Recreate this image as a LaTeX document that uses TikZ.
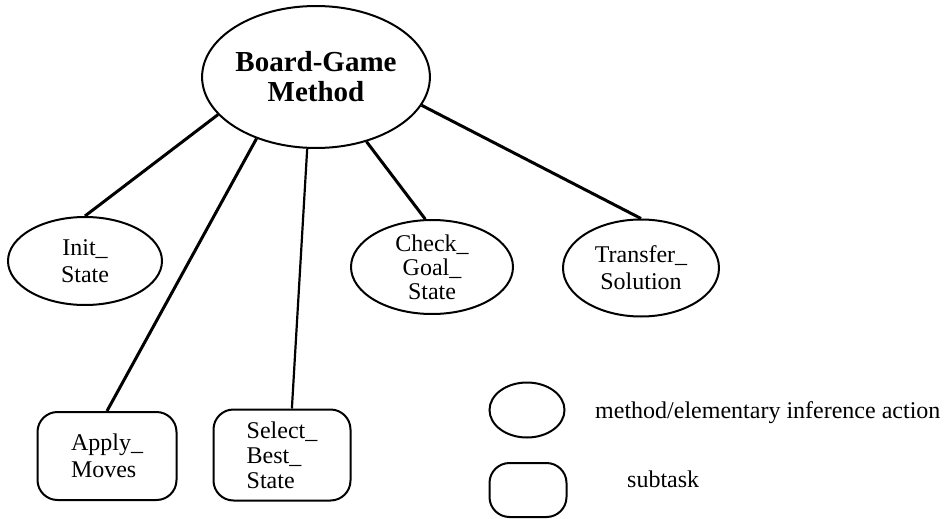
\documentclass[tikz,border=0pt]{standalone}
\usepackage{fontspec}
\setmainfont{Liberation Serif}
\usetikzlibrary{shapes.geometric}

\begin{document}
\begin{tikzpicture}[x=1pt, y=-1pt,
    action/.style={draw, ellipse, line width=2pt, inner sep=0pt, align=center,
        font=\fontsize{24}{27}\selectfont},
    subtask/.style={draw, rectangle, rounded corners=20pt, line width=2pt,
        inner sep=0pt, align=left, font=\fontsize{24}{25}\selectfont},
    link/.style={line width=3pt}]
    \useasboundingbox (0,0) rectangle (948,519);
    % method and its parts
    \node[action, minimum width=221pt, minimum height=142pt,
        font=\fontsize{29}{30}\selectfont\bfseries] (method) at (316,77) {Board-Game\\Method};
    \node[action, minimum width=154pt, minimum height=88pt] (init) at (85,261) {Init\_\\State};
    \node[action, minimum width=162pt, minimum height=94pt,
        font=\fontsize{24}{24}\selectfont] (check) at (432,267) {Check\_\\Goal\_\\State};
    \node[action, minimum width=156pt, minimum height=97pt] (transfer) at (641,268) {Transfer\_\\Solution};
    \node[subtask, minimum width=139pt, minimum height=88pt,
        font=\fontsize{24}{27}\selectfont] (apply) at (107,456) {Apply\_\\Moves};
    \node[subtask, minimum width=137pt, minimum height=91pt] (select) at (282,455) {Select\_\\Best\_\\State};
    % links
    \draw[link] (method.201.5) -- (init.north);
    \draw[link] (method.226.8) -- (apply.north);
    \draw[link, line width=2.2pt] (method.263) -- (select.78);
    \draw[link] (method.308) -- (check.98);
    \draw[link] (method.345.6) -- (transfer.north);
    % legend
    \node[action, minimum width=75pt, minimum height=55pt] (keyaction) at (527,410) {};
    \node[subtask, minimum width=77pt, minimum height=54pt] (keysubtask) at (528,490) {};
    \node[anchor=base west, inner sep=0pt, font=\fontsize{24}{27}\selectfont] (keyactiontext) at (595,418) {method/elementary inference action};
    \node[anchor=base west, inner sep=0pt, font=\fontsize{24}{27}\selectfont] (keysubtasktext) at (627,487) {subtask};
\end{tikzpicture}
\end{document}
